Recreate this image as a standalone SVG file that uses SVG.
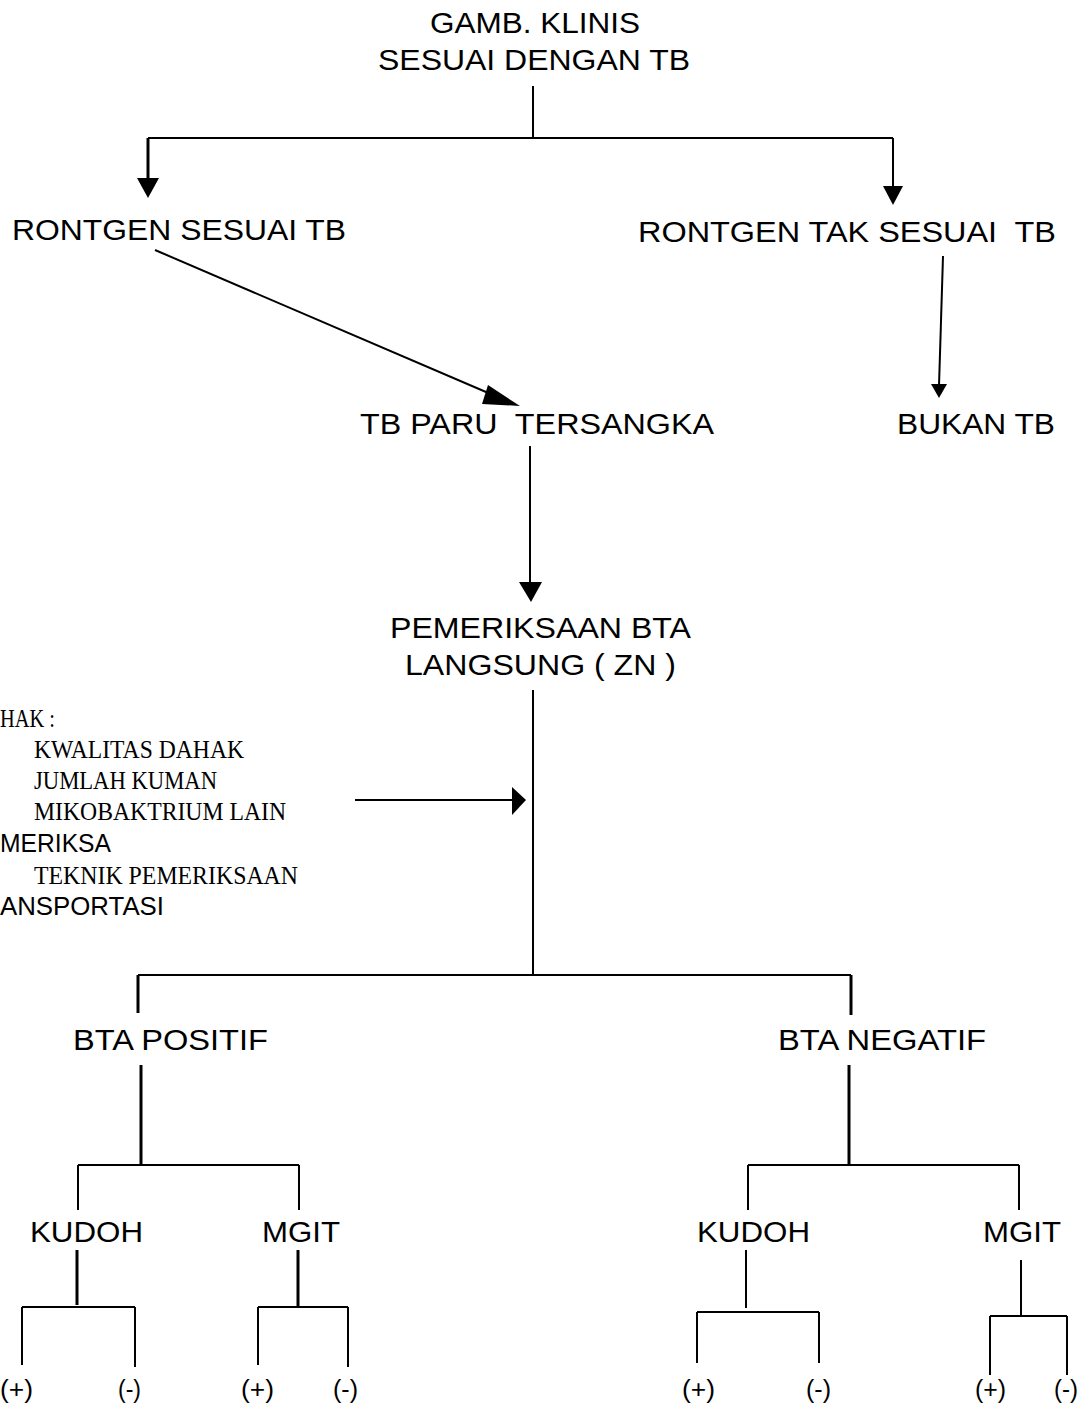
<svg xmlns="http://www.w3.org/2000/svg" width="1079" height="1407" viewBox="0 0 1079 1407">
<style>
.t{font-family:"Liberation Sans",Arial,sans-serif;font-size:29px;fill:#000}
.s{font-family:"Liberation Sans",Arial,sans-serif;font-size:25px;fill:#000}
.r{font-family:"Liberation Serif","Times New Roman",serif;font-size:26px;fill:#000}
.l{stroke:#000;stroke-width:2;fill:none}
.b{stroke:#000;stroke-width:3;fill:none}
</style>
<rect width="1079" height="1407" fill="#fff"/>
<g id="connectors">
<path class="l" d="M533,86 V138"/>
<path class="l" d="M148,138 H893"/>
<path class="b" d="M148,138 V182"/>
<path d="M137,178 L159,178 L148,198 z" fill="#000"/>
<path class="l" d="M893,138 V188"/>
<path d="M883,186 L903,186 L893,205 z" fill="#000"/>
<path class="l" d="M943,256 L939,386"/>
<path d="M931,384 L947,384 L939,398 z" fill="#000"/>
<path class="l" d="M155,250 L500,398"/>
<path d="M488,385 L520,406 L482,404 z" fill="#000"/>
<path class="l" d="M530,446 V585"/>
<path d="M519,582 L542,582 L531,602 z" fill="#000"/>
<path class="l" d="M533,690 V975"/>
<path class="l" d="M355,800 H515"/>
<path d="M512,787 L526,800 L512,815 z" fill="#000"/>
<path class="l" d="M138,975 H851"/>
<path class="b" d="M138,975 V1013"/>
<path class="b" d="M851,975 V1015"/>
<path class="b" d="M141,1065 V1165"/>
<path class="l" d="M78,1165 H299"/>
<path class="l" d="M78,1165 V1210"/>
<path class="l" d="M299,1165 V1210"/>
<path class="b" d="M77,1250 V1305"/>
<path class="l" d="M22,1307 H135"/>
<path class="l" d="M22,1307 V1365"/>
<path class="l" d="M135,1307 V1367"/>
<path class="b" d="M298,1250 V1306"/>
<path class="l" d="M258,1307 H348"/>
<path class="l" d="M258,1307 V1365"/>
<path class="l" d="M348,1307 V1367"/>
<path class="b" d="M849,1065 V1165"/>
<path class="l" d="M748,1165 H1019"/>
<path class="l" d="M748,1165 V1210"/>
<path class="l" d="M1019,1165 V1210"/>
<path class="l" d="M746,1250 V1308"/>
<path class="l" d="M697,1312 H819"/>
<path class="l" d="M697,1312 V1363"/>
<path class="l" d="M819,1312 V1363"/>
<path class="l" d="M1021,1260 V1316"/>
<path class="l" d="M990,1316 H1067"/>
<path class="l" d="M990,1316 V1375"/>
<path class="l" d="M1067,1316 V1375"/>
</g>
<g id="n-gamb"><text class="t" x="430" y="33" textLength="210" lengthAdjust="spacingAndGlyphs">GAMB. KLINIS</text><text class="t" x="378" y="70" textLength="312" lengthAdjust="spacingAndGlyphs">SESUAI DENGAN TB</text></g>
<g id="n-rontgen-sesuai"><text class="t" x="12" y="240" textLength="334" lengthAdjust="spacingAndGlyphs">RONTGEN SESUAI TB</text></g>
<g id="n-rontgen-tak"><text class="t" x="638" y="242" textLength="418" lengthAdjust="spacingAndGlyphs" xml:space="preserve">RONTGEN TAK SESUAI  TB</text></g>
<g id="n-tbparu"><text class="t" x="360" y="434" textLength="354" lengthAdjust="spacingAndGlyphs" xml:space="preserve">TB PARU  TERSANGKA</text></g>
<g id="n-bukan"><text class="t" x="897" y="434" textLength="158" lengthAdjust="spacingAndGlyphs">BUKAN TB</text></g>
<g id="n-pemeriksaan"><text class="t" x="390" y="638" textLength="301" lengthAdjust="spacingAndGlyphs">PEMERIKSAAN BTA</text><text class="t" x="405" y="675" textLength="271" lengthAdjust="spacingAndGlyphs">LANGSUNG ( ZN )</text></g>
<g id="n-faktor">
<text class="r" x="0" y="727" textLength="55" lengthAdjust="spacingAndGlyphs">HAK :</text>
<text class="r" x="34" y="758" textLength="210" lengthAdjust="spacingAndGlyphs">KWALITAS DAHAK</text>
<text class="r" x="34" y="789" textLength="183" lengthAdjust="spacingAndGlyphs">JUMLAH KUMAN</text>
<text class="r" x="34" y="820" textLength="252" lengthAdjust="spacingAndGlyphs">MIKOBAKTRIUM LAIN</text>
<text class="s" x="0" y="852" textLength="111" lengthAdjust="spacingAndGlyphs">MERIKSA</text>
<text class="r" x="34" y="884" textLength="264" lengthAdjust="spacingAndGlyphs">TEKNIK PEMERIKSAAN</text>
<text class="s" x="0" y="915" textLength="164" lengthAdjust="spacingAndGlyphs">ANSPORTASI</text>
</g>
<g id="n-positif"><text class="t" x="73" y="1050" textLength="195" lengthAdjust="spacingAndGlyphs">BTA POSITIF</text></g>
<g id="n-negatif"><text class="t" x="778" y="1050" textLength="208" lengthAdjust="spacingAndGlyphs">BTA NEGATIF</text></g>
<g id="n-kudoh1"><text class="t" x="30" y="1242" textLength="113" lengthAdjust="spacingAndGlyphs">KUDOH</text></g>
<g id="n-mgit1"><text class="t" x="262" y="1242" textLength="78" lengthAdjust="spacingAndGlyphs">MGIT</text></g>
<g id="n-kudoh2"><text class="t" x="697" y="1242" textLength="113" lengthAdjust="spacingAndGlyphs">KUDOH</text></g>
<g id="n-mgit2"><text class="t" x="983" y="1242" textLength="78" lengthAdjust="spacingAndGlyphs">MGIT</text></g>
<g id="n-k1p"><text class="s" x="0" y="1398" textLength="33" lengthAdjust="spacingAndGlyphs">(+)</text></g>
<g id="n-k1m"><text class="s" x="118" y="1398" textLength="23" lengthAdjust="spacingAndGlyphs">(-)</text></g>
<g id="n-m1p"><text class="s" x="241" y="1398" textLength="33" lengthAdjust="spacingAndGlyphs">(+)</text></g>
<g id="n-m1m"><text class="s" x="333" y="1398" textLength="25" lengthAdjust="spacingAndGlyphs">(-)</text></g>
<g id="n-k2p"><text class="s" x="682" y="1398" textLength="33" lengthAdjust="spacingAndGlyphs">(+)</text></g>
<g id="n-k2m"><text class="s" x="806" y="1398" textLength="25" lengthAdjust="spacingAndGlyphs">(-)</text></g>
<g id="n-m2p"><text class="s" x="975" y="1398" textLength="31" lengthAdjust="spacingAndGlyphs">(+)</text></g>
<g id="n-m2m"><text class="s" x="1054" y="1398" textLength="24" lengthAdjust="spacingAndGlyphs">(-)</text></g>
</svg>
